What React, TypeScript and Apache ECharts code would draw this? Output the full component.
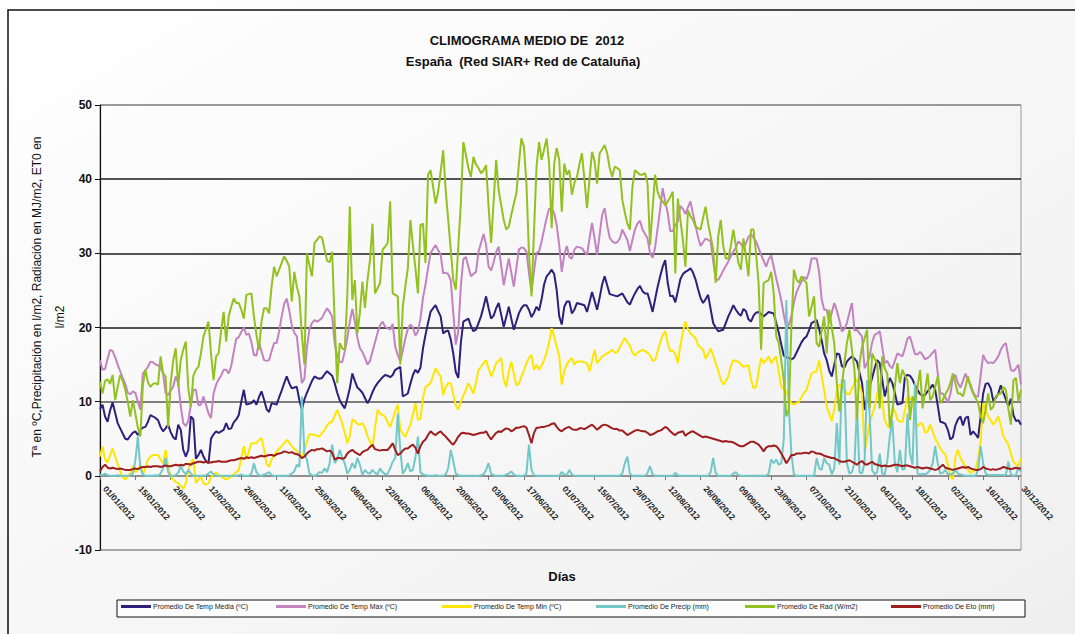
import React, { useEffect, useRef } from "react";
import * as echarts from "echarts";

const FONT = '"Liberation Sans", Arial, Helvetica, sans-serif';
const YEAR = 2012;

// category labels: every day of 2012 (dd/mm/yyyy)
const dayLabels: string[] = [];
for (let i = 0; i < 366; i++) {
  const d = new Date(YEAR, 0, 1 + i);
  dayLabels.push(
    `${String(d.getDate()).padStart(2, "0")}/${String(d.getMonth() + 1).padStart(2, "0")}/${d.getFullYear()}`
  );
}

const seriesNames = [
  "Promedio De Temp Media (ºC)",
  "Promedio De Temp Max (ºC)",
  "Promedio De Temp Min (ºC)",
  "Promedio De Precip (mm)",
  "Promedio De Rad (W/m2)",
  "Promedio De Eto (mm)",
];

const tempMedia = [
  9.0, 9.6, 8.0, 7.3, 8.8, 9.9, 8.5, 7.1, 6.4, 5.7,
  5.0, 4.9, 5.4, 5.8, 6.0, 5.5, 6.2, 6.5, 6.6, 7.3,
  8.2, 8.0, 7.8, 7.5, 6.6, 6.0, 6.4, 6.9, 5.9, 5.2,
  4.9, 6.9, 6.2, 3.5, 2.6, 3.5, 8.0, 7.6, 2.3, 2.8,
  3.5, 2.6, 2.0, 1.7, 5.0, 5.6, 6.0, 5.8, 6.0, 6.2,
  7.1, 6.3, 6.4, 7.2, 7.6, 8.2, 10.0, 11.6, 9.6, 9.7,
  9.8, 10.2, 9.6, 10.6, 11.4, 10.3, 9.0, 8.6, 9.8, 9.7,
  9.6, 10.6, 11.5, 12.5, 13.4, 12.5, 11.8, 11.9, 12.0, 10.2,
  8.9, 10.3, 11.2, 12.0, 12.8, 13.4, 13.2, 13.1, 13.2, 13.7,
  14.1, 13.8, 13.5, 12.5, 11.2, 10.2, 9.6, 9.1, 10.4, 11.8,
  13.8, 12.8, 11.9, 11.6, 11.2, 10.5, 9.8, 10.4, 11.3, 12.0,
  12.5, 12.9, 13.3, 13.6, 13.5, 13.3, 13.6, 14.3, 14.5, 14.7,
  10.7, 10.9, 11.1, 12.4, 13.6, 14.3, 13.9, 14.6, 17.2, 19.0,
  20.6, 22.1, 22.6, 23.0, 22.2, 21.5, 19.2, 19.5, 19.6, 18.4,
  16.5, 14.0, 13.2, 17.9, 20.8, 21.0, 21.2, 20.2, 19.5, 19.7,
  20.6, 21.5, 22.8, 24.2, 22.6, 21.2, 21.6, 22.6, 23.3, 21.7,
  20.1, 21.4, 22.8, 21.2, 19.7, 20.8, 21.9, 22.6, 23.0, 23.0,
  22.4, 21.4, 22.0, 22.8, 22.3, 23.8, 25.8, 26.9, 27.3, 27.8,
  27.2, 25.0, 21.5, 20.4, 22.8, 23.5, 23.5, 21.9, 22.4, 23.3,
  23.2, 23.1, 23.0, 22.1, 23.4, 24.8, 23.6, 22.4, 24.0, 25.8,
  26.9, 25.7, 24.5, 24.4, 24.3, 24.2, 24.4, 24.6, 24.0, 23.4,
  23.1, 23.9, 24.6, 25.2, 25.6, 24.9, 24.6, 24.6, 23.4, 22.1,
  23.8, 25.5, 26.9, 28.2, 29.1, 26.0, 24.2, 24.3, 23.4, 24.9,
  26.5, 27.2, 27.5, 27.7, 28.0, 27.4, 26.5, 25.2, 24.0, 23.3,
  23.8, 24.4, 22.5, 20.6, 20.0, 19.5, 19.6, 19.7, 20.6, 21.5,
  22.2, 23.0, 22.4, 21.9, 21.6, 22.5, 22.2, 21.1, 20.8, 21.6,
  22.0, 22.1, 21.8, 21.5, 21.8, 22.1, 22.0, 21.9, 20.6, 19.3,
  17.7, 16.2, 16.0, 15.9, 15.7, 15.9, 16.6, 17.3, 18.0, 18.5,
  18.8, 19.6, 20.6, 20.8, 21.0, 19.8, 18.3, 16.5, 15.6, 14.2,
  13.4, 15.0, 16.5, 16.4, 14.8, 14.6, 15.4, 15.8, 16.1, 15.8,
  15.4, 13.9, 12.5, 8.9, 10.5, 12.0, 13.2, 14.5, 15.6, 15.2,
  13.0, 10.7, 12.0, 13.2, 12.5, 11.2, 9.6, 9.7, 9.8, 13.4,
  13.6, 13.5, 13.0, 12.2, 11.6, 11.0, 10.8, 10.9, 11.4, 11.8,
  12.3, 11.6, 9.5, 7.3, 7.2, 7.0, 6.2, 4.9, 5.2, 6.8,
  7.6, 8.0, 6.8, 7.8, 8.0, 5.5, 6.0, 5.6, 5.1, 8.0,
  11.1, 12.4, 12.5, 11.8, 10.1, 10.5, 11.1, 12.2, 11.2, 10.3,
  9.4, 10.4, 8.2, 7.4, 7.5, 6.9,
];

const tempMax = [
  15.6, 14.3, 14.4, 15.8, 17.0, 16.8, 16.0, 15.0, 14.1, 13.2,
  12.4, 11.2, 11.0, 11.4, 11.2, 10.0, 8.9, 13.8, 14.2, 14.7,
  15.4, 15.3, 15.0, 14.9, 14.6, 13.8, 11.2, 10.9, 11.5, 12.0,
  13.4, 12.5, 9.4, 7.1, 6.7, 7.4, 9.6, 11.6, 11.6, 9.5,
  9.6, 10.7, 9.6, 8.4, 7.8, 11.1, 12.3, 13.0, 13.5, 14.3,
  14.3, 13.8, 14.8, 16.7, 18.5, 18.7, 19.4, 20.0, 19.0, 19.2,
  18.0, 16.3, 16.2, 18.0, 16.8, 15.6, 15.5, 15.6, 16.8, 17.9,
  17.9, 19.5, 21.5, 23.2, 23.9, 22.3, 20.3, 19.3, 18.8, 15.6,
  12.5, 13.1, 17.3, 19.8, 20.6, 21.0, 20.8, 21.0, 21.3, 22.0,
  22.6, 22.1, 21.5, 17.9, 16.2, 15.4, 15.3, 16.8, 18.5, 20.8,
  22.5, 20.8, 18.6, 17.2, 16.7, 15.9, 15.0, 15.5, 16.8, 18.0,
  19.3, 20.3, 20.8, 20.1, 19.9, 19.7, 20.5, 17.4, 16.3, 15.4,
  16.9, 18.5, 19.8, 20.4, 20.0, 18.9, 19.5, 21.2, 24.0, 25.8,
  28.0, 30.0, 30.6, 31.1, 30.4, 29.8, 27.3, 27.4, 27.2, 26.4,
  22.0, 17.7, 19.5, 25.6, 29.2, 29.5, 28.2, 26.9, 27.2, 27.5,
  30.2, 31.4, 32.6, 31.2, 28.2, 27.7, 28.8, 30.2, 30.9, 28.3,
  25.7, 27.5, 29.3, 27.4, 25.5, 28.0, 30.5, 30.8, 30.7, 30.2,
  27.4, 24.8, 27.6, 30.1, 30.2, 31.6, 33.2, 34.8, 36.0, 36.0,
  35.4, 33.8, 31.1, 27.5, 29.8, 31.0, 29.5, 29.3, 30.5, 30.9,
  30.8, 30.7, 30.2, 29.8, 32.0, 34.1, 32.0, 29.8, 32.5, 35.2,
  36.1, 33.8, 32.1, 31.6, 31.4, 31.5, 32.0, 33.2, 32.5, 31.8,
  30.3, 31.8, 33.2, 34.0, 34.4, 33.2, 32.6, 32.0, 30.0, 29.4,
  30.8, 33.4, 36.0, 38.8, 37.0, 35.4, 33.0, 33.0, 33.8, 34.3,
  36.4, 36.0, 35.3, 36.2, 37.0, 35.3, 33.8, 32.2, 31.0, 31.5,
  32.0, 31.8, 31.6, 29.0, 26.6, 26.4, 27.0, 27.7, 28.3, 28.9,
  29.6, 30.2, 30.8, 31.6, 31.3, 30.7, 31.4, 32.2, 32.6, 32.1,
  31.6, 30.7, 29.8, 29.0, 28.2, 29.2, 29.7, 28.2, 26.6, 25.2,
  23.6, 21.7, 20.0, 20.4, 21.5, 23.4, 24.7, 25.5, 26.2, 26.8,
  26.5, 27.5, 29.3, 29.3, 29.3, 27.5, 23.8, 22.4, 22.4, 20.7,
  22.0, 23.3, 22.3, 21.0, 19.5, 19.8, 20.6, 22.0, 23.3, 19.6,
  19.7, 19.2, 18.8, 14.5, 15.2, 16.1, 18.0, 19.0, 19.2, 19.5,
  17.4, 15.2, 15.5, 14.8, 14.5, 15.5, 16.5, 16.3, 16.1, 17.2,
  18.5, 18.8, 17.6, 16.4, 16.4, 16.7, 16.3, 15.7, 15.9, 16.2,
  16.6, 17.0, 13.8, 11.1, 11.1, 10.6, 9.9, 11.0, 13.2, 13.6,
  12.5, 11.9, 12.8, 13.8, 12.9, 12.3, 11.3, 10.7, 10.7, 13.5,
  16.3, 15.6, 15.2, 15.3, 15.2, 15.6, 16.1, 17.0, 17.6, 17.9,
  16.0, 14.3, 14.1, 14.5, 15.0, 12.3,
];

const tempMin = [
  2.6, 4.0, 2.2, 1.8, 2.8, 3.7, 2.6, 1.5, 0.6, -0.2,
  -0.5, -0.1, 0.3, 1.3, 0.5, 0.8, 1.5, 0.2, 1.0, 2.2,
  2.6, 2.8, 2.8, 2.8, 2.2, 1.7, 3.5, 1.2, 0.0, -0.5,
  -0.8, -1.0, -1.4, -1.7, -1.0, 0.8, 1.8, 2.2, -1.0, -0.5,
  -0.1, -1.0, -1.2, -1.0, -0.2, 0.1, 0.4, 0.1, -0.1, -0.3,
  -0.5, -0.3, -0.1, 0.2, 0.5, 0.8, 2.4, 4.0, 2.2, 3.3,
  4.4, 4.4, 4.4, 4.8, 5.1, 3.6, 1.6, 1.2, 2.2, 2.8,
  3.3, 3.7, 4.0, 4.4, 4.85, 4.5, 4.0, 3.6, 3.4, 2.8,
  2.4, 3.5, 4.6, 5.6, 5.6, 5.5, 5.4, 5.3, 5.8, 6.2,
  6.8, 7.2, 7.3, 8.1, 8.9, 8.0, 7.1, 5.8, 4.4, 5.4,
  7.6, 7.4, 7.0, 6.9, 7.1, 6.5, 5.4, 4.6, 3.8, 6.5,
  8.9, 8.4, 8.2, 8.0, 7.2, 6.6, 7.6, 8.8, 9.6, 6.2,
  5.7, 5.3, 6.1, 6.9, 8.3, 9.8, 7.5, 7.7, 10.5, 12.0,
  12.2, 12.5, 13.5, 14.5, 13.9, 13.4, 10.9, 12.0, 12.5, 12.5,
  11.0, 9.5, 8.9, 10.0, 10.8, 11.6, 12.5, 11.8, 11.1, 12.6,
  14.3, 14.7, 15.2, 15.6, 14.5, 13.4, 14.2, 15.2, 15.5, 15.9,
  13.0, 12.0, 14.0, 15.4, 13.8, 12.2, 12.4, 13.4, 14.2, 15.2,
  15.9, 16.3, 14.3, 15.0, 14.3, 14.9, 15.6, 16.6, 18.0, 19.9,
  18.8, 17.4, 16.1, 12.3, 14.2, 15.0, 15.5, 15.9, 15.0, 15.4,
  15.4, 15.4, 15.3, 15.2, 14.1, 15.5, 17.0, 15.2, 15.6, 16.1,
  16.3, 16.5, 16.7, 17.0, 16.6, 16.7, 17.3, 18.0, 18.6, 18.0,
  17.6, 16.6, 16.2, 16.6, 16.8, 17.0, 16.8, 16.6, 16.2, 15.5,
  15.6, 16.8, 18.0, 19.0, 19.5, 17.9, 16.8, 16.9, 16.4, 15.2,
  17.6, 19.4, 20.8, 19.8, 19.2, 18.9, 18.6, 17.6, 17.3, 17.0,
  15.8, 16.4, 17.2, 16.2, 15.2, 14.2, 13.0, 12.3, 12.8, 13.4,
  14.8, 15.6, 15.5, 15.4, 15.0, 14.7, 14.8, 14.9, 13.0, 11.8,
  12.0, 14.0, 15.9, 15.2, 15.6, 16.1, 15.2, 15.7, 16.1, 14.0,
  12.0, 11.7, 11.4, 10.5, 9.8, 9.6, 9.8, 10.0, 10.6, 11.2,
  11.6, 12.7, 13.8, 14.0, 14.1, 15.6, 13.5, 11.5, 9.4, 8.4,
  7.4, 9.0, 11.5, 12.3, 12.0, 11.8, 11.0, 11.0, 11.8, 12.5,
  13.0, 12.2, 11.1, 3.1, 5.0, 7.1, 8.2, 9.3, 11.0, 12.5,
  10.0, 7.5, 6.8, 6.4, 9.2, 8.8, 7.6, 7.3, 7.3, 8.8,
  10.7, 10.4, 10.2, 7.5, 6.6, 7.1, 7.0, 5.8, 6.0, 6.9,
  6.0, 5.0, 4.4, 3.7, 3.2, 2.9, 1.5, 0.0, -0.5, 2.5,
  3.5, 2.4, 1.8, 1.3, 0.8, 0.4, 0.6, 0.8, 2.4, 4.6,
  9.8, 9.0, 8.0, 7.5, 6.9, 7.4, 8.0, 6.8, 5.3, 4.8,
  4.2, 3.0, 1.9, 1.6, 1.3, 2.4,
];

const precip = [
  0.2, 0.1, 0.3, 0.1, 0, 0, 0, 0.1, 0, 0,
  0, 0, 0.1, 0.3, 2.0, 5.3, 1.0, 0.2, 0, 0,
  0, 0, 0.1, 0, 0.3, 1.0, 2.4, 0.5, 0, 0,
  0.1, 0.4, 1.3, 0.6, 0.2, 0.8, 0.3, 0, 0, 0,
  0, 0, 0.1, 0.3, 0.6, 0.2, 0, 0, 0, 0,
  0, 0, 0, 0, 0, 0.1, 0.2, 0, 0, 0,
  0.3, 1.7, 0.5, 0.1, 0, 0.2, 0.3, 0.5, 0.1, 0,
  0, 0, 0, 0, 0, 0.1, 0.3, 0.6, 1.5, 1.2,
  10.7, 3.0, 2.2, 0.3, 0.1, 0, 0.2, 0.5, 0.4, 1.0,
  0.5, 1.7, 4.2, 1.7, 2.2, 3.5, 2.4, 1.7, 0.3, 0.8,
  1.7, 1.0, 2.4, 1.5, 0.1, 0.8, 0.4, 0.3, 0.8, 0.4,
  0.2, 1.0, 0.5, 0.2, 0.3, 1.0, 1.9, 2.4, 8.4, 3.5,
  0.3, 0.8, 1.7, 0.6, 0.8, 2.5, 5.3, 0.5, 0.2, 0.1,
  0, 0, 0, 0.1, 0, 0, 0, 0.2, 1.0, 3.5,
  2.0, 0.3, 0.1, 0, 0, 0, 0, 0, 0, 0,
  0, 0.1, 0.2, 0.8, 1.7, 0.3, 0.1, 0, 0, 0,
  0, 0.2, 0.3, 0.6, 0.2, 0, 0, 0, 0, 0.3,
  4.2, 0.8, 0.1, 0, 0, 0, 0, 0, 0, 0,
  0, 0, 0, 0.5, 0.2, 0.1, 0.8, 0.2, 0, 0,
  0, 0, 0, 0, 0, 0, 0, 0, 0, 0,
  0, 0, 0, 0, 0, 0, 0, 0.3, 1.7, 2.6,
  0.3, 0, 0, 0, 0, 0, 0, 0.4, 1.3, 0.2,
  0, 0, 0, 0, 0, 0, 0, 0, 0.4, 0.1,
  0, 0, 0, 0, 0, 0, 0, 0, 0, 0,
  0, 0, 0.5, 2.4, 0.4, 0, 0, 0, 0, 0,
  0, 0.3, 0.5, 0.1, 0, 0, 0, 0, 0, 0,
  0, 0, 0, 0, 0, 0.3, 2.2, 1.7, 2.2, 1.5,
  1.7, 5.0, 23.7, 9.3, 3.0, 0.2, 0, 0, 0, 0,
  0, 0, 0, 0, 2.4, 1.0, 0.8, 2.4, 1.7, 1.5,
  0.2, 1.0, 7.1, 1.5, 12.9, 12.9, 1.7, 0.3, 0.5, 1.7,
  9.3, 0.5, 0.3, 1.7, 12.9, 8.4, 0.8, 0.2, 0.5, 3.0,
  0.3, 0.2, 2.0, 5.3, 7.5, 1.7, 0.5, 3.5, 0.8, 1.0,
  8.4, 3.0, 1.5, 12.5, 0.3, 0.2, 0.3, 0.2, 0.4, 0.8,
  1.7, 4.0, 1.7, 0.3, 0.4, 0.8, 0.2, 0.2, 0.3, 0.8,
  0.3, 0.2, 0.1, 0, 0, 0, 0, 0, 0.8, 4.0,
  1.7, 0.3, 0.1, 0.1, 0.1, 0.1, 0.1, 0.1, 0.1, 0.1,
  1.9, 0.2, 0, 0.1, 1.2, 0.5,
];

const radiation = [
  12.7, 11.1, 12.8, 13.0, 12.4, 13.6, 10.2, 12.0, 13.6, 12.8,
  11.6, 10.0, 8.0, 10.2, 8.4, 6.5, 5.3, 12.3, 14.3, 12.6,
  12.0, 12.4, 12.5, 12.3, 16.1, 13.8, 13.4, 6.6, 12.5, 15.5,
  17.2, 12.0, 15.6, 17.0, 18.1, 11.8, 9.3, 13.5, 14.3, 14.7,
  16.5, 18.8, 19.8, 20.8, 16.5, 12.9, 16.1, 16.5, 19.5, 22.1,
  18.1, 21.5, 22.8, 23.9, 23.3, 23.3, 22.4, 21.2, 24.4, 24.5,
  24.6, 21.5, 19.0, 17.0, 20.8, 22.6, 22.6, 21.9, 25.5, 28.2,
  26.9, 27.8, 28.7, 29.6, 29.0, 28.2, 23.5, 27.5, 25.5, 24.2,
  19.0, 15.0, 30.0, 28.4, 26.9, 31.4, 31.8, 32.3, 32.1, 30.5,
  29.0, 28.8, 30.2, 20.8, 12.5, 17.9, 17.2, 17.0, 24.2, 36.3,
  23.7, 26.4, 19.2, 22.0, 26.2, 22.6, 26.4, 29.1, 34.0, 24.6,
  25.3, 26.0, 30.5, 30.9, 31.4, 37.0, 24.6, 24.4, 24.2, 15.0,
  22.8, 25.5, 28.0, 34.5, 31.1, 28.0, 24.6, 33.8, 34.0, 28.7,
  40.6, 41.2, 39.0, 36.7, 38.3, 41.0, 43.9, 38.5, 34.5, 30.5,
  26.4, 25.1, 31.0, 36.7, 45.0, 43.3, 41.5, 40.3, 43.0, 42.0,
  41.5, 40.8, 41.2, 41.9, 36.3, 31.4, 37.0, 42.6, 38.5, 36.5,
  34.5, 33.2, 33.6, 35.2, 36.7, 38.1, 42.0, 45.5, 44.4, 39.4,
  30.0, 24.2, 33.0, 41.7, 45.0, 42.6, 44.0, 45.5, 42.1, 33.4,
  42.1, 44.2, 42.6, 35.6, 42.1, 40.6, 41.2, 37.9, 39.5, 40.3,
  42.0, 43.5, 39.9, 36.1, 40.0, 43.7, 42.4, 39.4, 43.5, 44.0,
  44.6, 43.5, 41.5, 40.3, 41.7, 41.5, 41.2, 37.2, 35.5, 34.0,
  33.2, 39.0, 41.2, 40.9, 40.6, 40.6, 40.8, 39.4, 31.1, 36.0,
  40.6, 38.3, 37.4, 37.0, 36.5, 37.0, 37.6, 38.3, 27.3, 37.4,
  34.5, 31.8, 28.2, 35.8, 35.0, 34.5, 33.6, 33.4, 33.2, 34.8,
  36.3, 34.0, 32.3, 30.5, 26.0, 32.3, 34.5, 31.0, 29.3, 29.3,
  31.0, 33.2, 31.0, 28.7, 27.8, 32.0, 29.5, 26.9, 33.2, 33.2,
  30.0, 26.0, 17.0, 26.0, 26.2, 26.4, 27.5, 24.6, 18.8, 17.9,
  15.5, 12.9, 8.0, 9.0, 20.0, 27.8, 26.5, 26.0, 26.9, 26.4,
  26.0, 21.5, 22.8, 24.2, 17.9, 17.4, 19.5, 21.5, 16.5, 22.4,
  20.0, 17.9, 12.5, 8.7, 12.0, 15.2, 17.9, 19.7, 17.0, 14.3,
  7.5, 15.2, 17.4, 18.5, 19.7, 9.1, 16.5, 15.8, 15.2, 9.1,
  16.1, 14.5, 13.8, 6.6, 8.4, 12.0, 15.2, 12.5, 14.3, 13.5,
  12.9, 7.5, 10.7, 9.8, 12.0, 14.3, 9.1, 11.5, 13.8, 10.2,
  10.7, 12.0, 13.4, 9.8, 10.2, 11.0, 11.6, 12.5, 13.8, 12.5,
  11.1, 11.1, 10.7, 12.0, 13.4, 12.0, 11.1, 10.5, 9.8, 8.0,
  7.1, 9.0, 11.1, 8.9, 9.3, 10.7, 11.0, 11.1, 12.0, 11.6,
  9.0, 6.9, 12.9, 13.2, 10.0, 11.6,
];

const eto = [
  0.6, 1.2, 1.5, 1.1, 1.0, 1.1, 1.0, 0.9, 1.0, 0.9,
  0.8, 0.8, 0.8, 0.9, 1.0, 0.9, 1.1, 1.2, 1.2, 1.25,
  1.2, 1.3, 1.3, 1.3, 1.2, 1.3, 1.4, 1.3, 1.3, 1.4,
  1.5, 1.4, 1.5, 1.4, 1.6, 1.6, 1.5, 1.7, 1.8, 1.9,
  1.9, 1.8, 1.9, 1.8, 1.8, 1.9, 1.9, 2.0, 1.9, 1.9,
  1.9, 2.0, 2.1, 2.1, 2.2, 2.3, 2.4, 2.3, 2.5, 2.4,
  2.5, 2.4, 2.5, 2.6, 2.7, 2.6, 2.7, 2.8, 2.8, 2.7,
  2.9, 3.0, 3.1, 3.3, 3.2, 3.1, 3.2, 3.0, 2.9, 2.8,
  2.4, 2.6, 3.0, 3.3, 3.5, 3.4, 3.6, 3.6, 3.7, 3.5,
  3.3, 3.4, 3.1, 2.2, 2.4, 2.4, 2.3, 2.4, 3.0, 3.3,
  3.5, 3.2, 3.0, 2.8, 3.2, 3.4, 3.5, 3.9, 4.2, 3.6,
  3.5, 3.4, 3.5, 3.5, 3.5, 3.9, 4.4, 3.5, 2.8, 3.0,
  3.4, 3.7, 3.7, 4.0, 4.2, 3.8, 3.0, 4.0, 4.6, 4.9,
  5.5, 6.0, 5.7, 5.5, 5.8, 6.0, 5.6, 5.3, 4.9, 4.5,
  4.2, 4.7, 5.3, 5.7, 5.8, 5.7, 5.7, 5.6, 5.5, 5.6,
  5.7, 5.8, 5.8, 6.0, 5.4, 4.9, 5.4, 5.8, 6.0, 5.9,
  6.2, 6.4, 6.3, 6.0, 6.2, 6.5, 6.5, 6.6, 6.7, 6.5,
  5.5, 4.4, 5.8, 6.5, 6.5, 6.6, 6.6, 6.7, 6.8, 7.0,
  7.1, 6.6, 6.2, 6.0, 6.3, 6.5, 6.6, 6.3, 6.2, 6.2,
  6.4, 6.4, 6.3, 6.5, 6.7, 6.9, 6.6, 6.2, 6.5, 6.8,
  6.9, 6.8, 6.6, 6.4, 6.3, 6.3, 6.1, 6.1, 5.8, 5.5,
  5.7, 5.9, 6.1, 6.2, 6.1, 6.0, 6.0, 5.8, 5.5, 5.6,
  5.8, 6.0, 6.1, 6.3, 6.6, 6.4, 6.0, 5.7, 5.5, 5.8,
  5.9, 6.0, 5.4, 5.7, 5.9, 6.0, 5.8, 5.6, 5.4, 5.2,
  5.3, 5.2, 5.1, 5.0, 4.9, 4.8, 4.7, 4.6, 4.7, 4.6,
  4.6, 4.5, 4.3, 4.1, 4.0, 4.0, 4.2, 4.4, 4.6, 4.6,
  4.4, 4.2, 3.8, 3.3, 3.8, 4.0, 4.0, 4.1, 4.0, 3.6,
  3.0, 2.4, 1.7, 2.2, 2.8, 2.8, 3.0, 3.0, 3.0, 3.1,
  3.1, 3.0, 3.3, 3.2, 3.0, 3.0, 2.9, 2.7, 2.6, 2.5,
  2.4, 2.4, 2.2, 2.0, 1.9, 1.9, 2.0, 2.1, 1.9, 1.7,
  1.5, 1.8, 2.0, 1.6, 1.5, 1.7, 1.9, 1.6, 1.5, 1.4,
  1.3, 1.4, 1.3, 1.3, 1.4, 1.5, 1.5, 1.4, 1.3, 1.4,
  1.4, 1.3, 1.2, 1.1, 1.2, 1.1, 1.0, 1.1, 1.1, 1.0,
  0.9, 0.8, 0.9, 1.2, 1.5, 1.1, 1.0, 0.9, 0.8, 0.9,
  1.0, 1.1, 1.2, 1.1, 1.2, 1.0, 0.9, 0.8, 0.8, 0.9,
  1.2, 1.0, 0.9, 0.8, 0.9, 0.8, 0.9, 1.0, 1.2, 1.1,
  1.0, 0.9, 1.0, 1.1, 1.0, 1.0,
];

const seriesData = [tempMedia, tempMax, tempMin, precip, radiation, eto];
const seriesColors = ["#2e1f7a", "#c283c0", "#ffe600", "#72c7c9", "#93c11f", "#9e1d1d"];
const legendLeft = [121, 276, 442, 596, 745, 891];

export default function App() {
  const ref = useRef<HTMLDivElement>(null);

  useEffect(() => {
    if (!ref.current) return;
    const chart = echarts.init(ref.current, undefined, { renderer: "svg" });

    const option: any = {
      animation: false,
      backgroundColor: new echarts.graphic.LinearGradient(0, 0, 1, 1, [
        { offset: 0, color: "#ffffff" },
        { offset: 1, color: "#efefef" },
      ]),
      grid: {
        left: 100,
        top: 105,
        right: 1075 - 1021,
        bottom: 634 - 550,
        show: true,
        borderColor: "#9a9a9a",
        borderWidth: 1,
        backgroundColor: "transparent",
      },
      legend: seriesNames.map((n, i) => ({
        data: [n],
        left: legendLeft[i],
        top: 603,
        padding: 0,
        icon: "rect",
        itemWidth: 30,
        itemHeight: 3,
        itemGap: 2,
        selectedMode: false,
        textStyle: { fontSize: 7, color: "#222", fontFamily: FONT, padding: [0, 0, 0, -3] },
      })),
      xAxis: {
        type: "category",
        data: dayLabels,
        boundaryGap: false,
        offset: -74,
        axisLine: { onZero: false, lineStyle: { color: "#8a8a8a", width: 1.5 } },
        axisTick: { show: true, interval: 13, length: 4, lineStyle: { color: "#777" } },
        axisLabel: {
          interval: 13,
          rotate: -48,
          fontSize: 8.5,
          fontWeight: "bold",
          color: "#222",
          fontFamily: FONT,
          margin: 6,
          padding: [0, 0, 0, 7],
        },
        splitLine: { show: false },
      },
      yAxis: {
        type: "value",
        min: -10,
        max: 50,
        interval: 10,
        axisLine: { show: true, lineStyle: { color: "#111", width: 1.2 } },
        axisTick: { show: true, length: 5, lineStyle: { color: "#111" } },
        axisLabel: { fontSize: 12, fontWeight: "bold", color: "#111", fontFamily: FONT, margin: 8 },
        splitLine: {
          show: true,
          lineStyle: {
            color: ["#9a9a9a", "#8a8a8a", "#555555", "#1a1a1a", "#1a1a1a", "#1a1a1a", "#8a8a8a"],
            width: 1.5,
          },
        },
      },
      series: seriesNames.map((n, i) => ({
        name: n,
        type: "line",
        data: seriesData[i],
        symbol: "none",
        showSymbol: false,
        color: seriesColors[i],
        lineStyle: { width: 2, color: seriesColors[i] },
        z: 2 + i,
      })),
      graphic: [
        {
          type: "rect",
          silent: true,
          shape: { x: 8, y: 10, width: 1100, height: 700 },
          style: { fill: "none", stroke: "#111", lineWidth: 1.5 },
        },
        {
          type: "rect",
          silent: true,
          z: 0,
          shape: { x: 117, y: 600, width: 908, height: 17 },
          style: { fill: "#fcfcfc", stroke: "#111", lineWidth: 1 },
        },
        {
          type: "text",
          silent: true,
          x: 527,
          y: 40,
          style: {
            text: "CLIMOGRAMA MEDIO DE  2012",
            font: `bold 13px ${FONT}`,
            fill: "#111",
            textAlign: "center",
            textVerticalAlign: "middle",
          },
        },
        {
          type: "text",
          silent: true,
          x: 523,
          y: 61,
          style: {
            text: "España  (Red SIAR+ Red de Cataluña)",
            font: `bold 13px ${FONT}`,
            fill: "#111",
            textAlign: "center",
            textVerticalAlign: "middle",
          },
        },
        {
          type: "text",
          silent: true,
          x: 37,
          y: 297,
          rotation: Math.PI / 2,
          style: {
            text: "Tª en ºC,Precipitación en l/m2, Radiación en MJ/m2, ET0 en",
            font: `12px ${FONT}`,
            fill: "#111",
            textAlign: "center",
            textVerticalAlign: "middle",
          },
        },
        {
          type: "text",
          silent: true,
          x: 60,
          y: 317,
          rotation: Math.PI / 2,
          style: {
            text: "l/m2",
            font: `12px ${FONT}`,
            fill: "#111",
            textAlign: "center",
            textVerticalAlign: "middle",
          },
        },
        {
          type: "text",
          silent: true,
          x: 562,
          y: 576,
          style: {
            text: "Días",
            font: `bold 13px ${FONT}`,
            fill: "#111",
            textAlign: "center",
            textVerticalAlign: "middle",
          },
        },
      ],
    };

    chart.setOption(option);
    return () => chart.dispose();
  }, []);

  return (
    <div
      ref={ref}
      style={{ position: "fixed", left: 0, top: 0, width: 1075, height: 634 }}
    />
  );
}
